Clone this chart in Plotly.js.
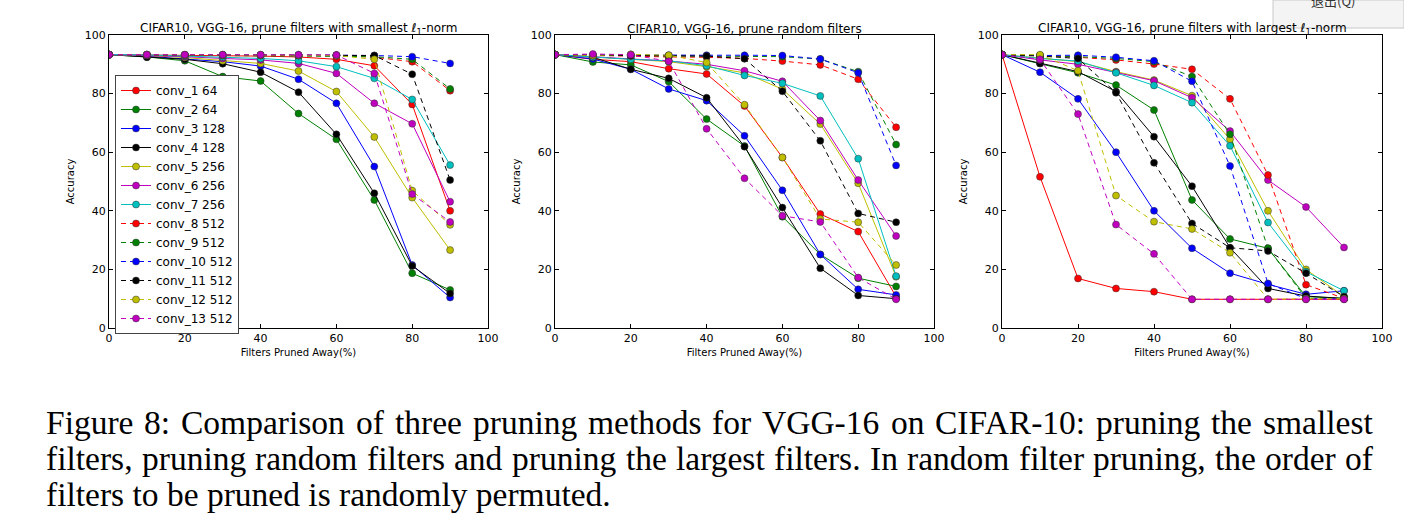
<!DOCTYPE html>
<html>
<head>
<meta charset="utf-8">
<script src="https://cdn.plot.ly/plotly-3.0.1.min.js"></script>
<style>html,body{margin:0;padding:0;background:#fff;}#chart{width:1404px;height:524px;}</style>
</head>
<body>
<div id="chart"></div>
<script>
// ---- data ----
const prunedPct = [0, 10, 20, 30, 40, 50, 60, 70, 80, 90];
const layerNames = ['conv_1 64','conv_2 64','conv_3 128','conv_4 128','conv_5 256','conv_6 256','conv_7 256',
                    'conv_8 512','conv_9 512','conv_10 512','conv_11 512','conv_12 512','conv_13 512'];
const panelTitles = [
  'CIFAR10, VGG-16, prune filters with smallest ℓ<sub>1</sub>-norm',
  'CIFAR10, VGG-16, prune random filters',
  'CIFAR10, VGG-16, prune filters with largest ℓ<sub>1</sub>-norm'
];
const xTitle = 'Filters Pruned Away(%)';
const yTitle = 'Accuracy';
const tickVals = [0, 20, 40, 60, 80, 100];

// accuracy per layer (conv_1 ... conv_13), pruning smallest l1-norm filters
const accSmallest = [
  [93.3, 93.2, 93.1, 93.0, 92.8, 92.5, 91.7, 89.5, 76.3, 40.0],
  [93.3, 92.5, 91.2, 85.8, 84.3, 73.2, 64.4, 43.7, 18.7, 13.0],
  [93.3, 92.8, 91.8, 90.9, 89.4, 84.9, 76.7, 55.1, 21.5, 10.4],
  [93.3, 92.4, 91.7, 90.2, 87.3, 80.5, 66.1, 46.0, 21.2, 11.8],
  [93.3, 93.0, 92.3, 91.2, 90.3, 87.7, 80.7, 65.2, 44.5, 26.6],
  [93.3, 93.0, 92.6, 92.0, 91.5, 90.3, 86.9, 76.7, 69.7, 43.1],
  [93.3, 93.2, 92.8, 92.5, 92.0, 91.2, 89.2, 85.2, 78.0, 55.6],
  [93.3, 93.2, 93.2, 93.1, 93.1, 93.0, 93.0, 92.4, 90.9, 81.0],
  [93.3, 93.2, 93.2, 93.1, 93.1, 93.0, 92.9, 92.6, 91.7, 81.6],
  [93.3, 93.3, 93.2, 93.2, 93.2, 93.1, 93.1, 93.0, 92.6, 90.3],
  [93.3, 93.2, 93.2, 93.2, 93.1, 93.1, 93.1, 93.0, 86.6, 50.5],
  [93.3, 93.3, 93.2, 93.2, 93.2, 93.1, 93.0, 91.7, 46.9, 35.2],
  [93.3, 93.3, 93.3, 93.3, 93.3, 93.3, 93.2, 86.9, 45.7, 36.2]
];
// pruning random filters
const accRandom = [
  [93.3, 91.7, 90.9, 88.5, 86.7, 75.8, 58.2, 38.9, 32.9, 10.7],
  [93.3, 90.8, 89.8, 84.1, 71.3, 62.1, 38.0, 25.1, 17.0, 14.2],
  [93.3, 91.8, 88.3, 81.6, 77.6, 65.6, 47.0, 25.1, 13.2, 11.3],
  [93.3, 92.4, 88.3, 85.2, 78.6, 61.9, 41.1, 20.4, 11.1, 10.0],
  [93.3, 92.6, 91.7, 90.9, 89.2, 87.1, 81.5, 69.6, 49.4, 17.5],
  [93.3, 92.6, 92.0, 91.1, 90.0, 87.8, 84.2, 70.8, 50.5, 31.4],
  [93.3, 92.5, 91.7, 91.2, 89.5, 86.2, 83.5, 79.2, 57.8, 17.7],
  [93.3, 93.0, 92.8, 92.5, 92.4, 92.0, 91.1, 89.8, 84.9, 68.5],
  [93.3, 93.1, 93.0, 92.9, 92.8, 92.6, 92.6, 91.8, 87.5, 62.6],
  [93.3, 93.2, 93.2, 93.1, 93.1, 93.1, 93.0, 91.8, 87.1, 55.5],
  [93.3, 93.0, 93.0, 92.8, 92.8, 91.9, 80.8, 63.9, 39.1, 36.1],
  [93.3, 93.0, 93.4, 93.1, 90.6, 76.2, 58.2, 37.2, 36.1, 21.5],
  [93.3, 93.5, 93.3, 91.0, 68.0, 51.1, 38.3, 36.2, 17.2, 9.8]
];
// pruning largest l1-norm filters
const accLargest = [
  [93.3, 51.6, 16.9, 13.5, 12.4, 9.8, 9.8, 9.8, 9.8, 9.8],
  [93.3, 90.3, 87.1, 82.9, 74.4, 43.7, 30.4, 27.2, 10.7, 10.1],
  [93.3, 87.3, 78.2, 60.0, 40.0, 27.2, 18.7, 14.9, 11.5, 12.7],
  [93.3, 90.3, 87.5, 80.7, 65.3, 48.4, 27.4, 13.5, 10.9, 10.1],
  [93.3, 92.0, 90.9, 87.5, 84.6, 79.3, 64.4, 40.0, 20.0, 10.7],
  [93.3, 91.5, 90.0, 87.3, 84.4, 78.6, 67.2, 50.5, 41.3, 27.5],
  [93.3, 92.0, 91.1, 87.1, 82.8, 76.9, 62.2, 36.0, 19.2, 12.7],
  [93.3, 93.0, 92.4, 91.5, 90.1, 88.3, 78.2, 52.2, 14.8, 10.1],
  [93.3, 93.0, 92.6, 92.0, 90.9, 85.8, 66.1, 27.2, 10.1, 10.0],
  [93.3, 93.0, 93.1, 92.4, 91.2, 84.2, 55.3, 15.2, 10.0, 10.0],
  [93.3, 92.8, 92.0, 80.3, 56.4, 35.7, 27.4, 26.3, 18.7, 10.7],
  [93.3, 93.3, 87.8, 45.2, 36.3, 33.8, 25.7, 9.8, 10.0, 10.0],
  [93.3, 91.7, 73.0, 35.3, 25.3, 9.8, 9.8, 9.8, 9.8, 9.8]
];
const captionLines = [
  'Figure 8: Comparison of three pruning methods for VGG-16 on CIFAR-10: pruning the smallest',
  'filters, pruning random filters and pruning the largest filters. In random filter pruning, the order of',
  'filters to be pruned is randomly permuted.'
];

// ---- styling ----
const colors = ['#ff0000','#008000','#0000ff','#000000','#bfbf00','#bf00bf','#00bfbf',
                '#ff0000','#008000','#0000ff','#000000','#bfbf00','#bf00bf'];
const W = 1404, H = 524;
const px = v => v / W, py = v => 1 - v / H;
const domainsX = [[px(109), px(488)], [px(555), px(934)], [px(1002), px(1382)]];
const domainY = [py(328), py(35)];
const FONT = 'DejaVu Sans, sans-serif';
const SERIF = 'Liberation Serif';
const CAP_SIZE = 33.5;

const panels = [accSmallest, accRandom, accLargest];
const traces = [];
panels.forEach((acc, p) => {
  acc.forEach((ys, i) => {
    traces.push({
      type: 'scatter', mode: 'lines+markers',
      x: prunedPct, y: ys,
      name: layerNames[i],
      xaxis: p === 0 ? 'x' : 'x' + (p + 1),
      yaxis: p === 0 ? 'y' : 'y' + (p + 1),
      showlegend: p === 0,
      line: {color: colors[i], width: 1, dash: i >= 7 ? '5px,4px' : 'solid'},
      marker: {color: colors[i], size: 7, line: {color: '#333', width: 0.5}}
    });
  });
});

const layout = {
  width: W, height: H,
  margin: {l: 0, r: 0, t: 0, b: 0},
  paper_bgcolor: '#fff', plot_bgcolor: '#fff',
  font: {family: FONT, color: '#000', size: 11},
  showlegend: true,
  legend: {
    x: px(115), y: py(75), xanchor: 'left', yanchor: 'top',
    bordercolor: '#444', borderwidth: 1, bgcolor: '#fff',
    font: {family: FONT, size: 12, color: '#000'},
    tracegroupgap: 0, itemwidth: 30
  },
  annotations: [],
  shapes: []
};

[0, 1, 2].forEach(p => {
  const sfx = p === 0 ? '' : String(p + 1);
  const common = {
    range: [0, 100], tickvals: tickVals, ticktext: tickVals.map(String),
    ticks: 'inside', ticklen: 4, tickwidth: 1, tickcolor: '#000',
    showline: true, linecolor: '#000', linewidth: 1, mirror: 'ticks',
    showgrid: false, zeroline: false,
    tickfont: {family: FONT, size: 11, color: '#000'}
  };
  layout['xaxis' + sfx] = Object.assign({}, common, {
    domain: domainsX[p], anchor: 'y' + sfx,
    title: {text: xTitle, font: {family: FONT, size: 10, color: '#000'}, standoff: 4}
  });
  layout['yaxis' + sfx] = Object.assign({}, common, {
    domain: domainY, anchor: 'x' + sfx,
    title: {text: yTitle, font: {family: FONT, size: 10, color: '#000'}, standoff: 8}
  });
  layout.annotations.push({
    xref: 'paper', yref: 'paper',
    x: (domainsX[p][0] + domainsX[p][1]) / 2, y: py(29),
    xanchor: 'center', yanchor: 'middle', showarrow: false,
    text: panelTitles[p], font: {family: FONT, size: 12, color: '#000'}
  });
});

// caption: first two lines justified between left and right text margins (like the LaTeX source)
const capLeft = 45, capRight = 1372;
const capY = [422, 458, 494];
const ctx = document.createElement('canvas').getContext('2d');
ctx.font = CAP_SIZE + 'px "' + SERIF + '"';
captionLines.forEach((line, i) => {
  const capFont = {family: SERIF + ', Times New Roman, serif', size: CAP_SIZE, color: '#000'};
  if (i === captionLines.length - 1) {
    layout.annotations.push({
      xref: 'paper', yref: 'paper', x: px(capLeft), y: py(capY[i]),
      xanchor: 'left', yanchor: 'middle', showarrow: false, borderpad: 0,
      text: line, font: capFont
    });
    return;
  }
  const words = line.split(' ');
  const widths = words.map(w => ctx.measureText(w).width);
  const total = widths.reduce((a, b) => a + b, 0);
  const gap = (capRight - capLeft - total) / (words.length - 1);
  let xpos = capLeft;
  words.forEach((w, k) => {
    layout.annotations.push({
      xref: 'paper', yref: 'paper', x: px(xpos), y: py(capY[i]),
      xanchor: 'left', yanchor: 'middle', showarrow: false, borderpad: 0,
      text: w, font: capFont
    });
    xpos += widths[k] + gap;
  });
});

// overlay box seen in the top-right of the source image
layout.shapes.push({
  type: 'rect', xref: 'paper', yref: 'paper',
  x0: px(1273), x1: px(1404), y0: py(28), y1: py(0),
  fillcolor: '#f4f4f4', line: {color: '#c8c8c8', width: 1}, layer: 'above'
});
layout.annotations.push({
  xref: 'paper', yref: 'paper', x: px(1333), y: py(0),
  xanchor: 'center', yanchor: 'middle', showarrow: false,
  text: '退出(Q)', font: {family: 'Noto Sans CJK SC, sans-serif', size: 13, color: '#333'}
});

Plotly.newPlot('chart', traces, layout, {displayModeBar: false, staticPlot: true});
</script>
</body>
</html>
